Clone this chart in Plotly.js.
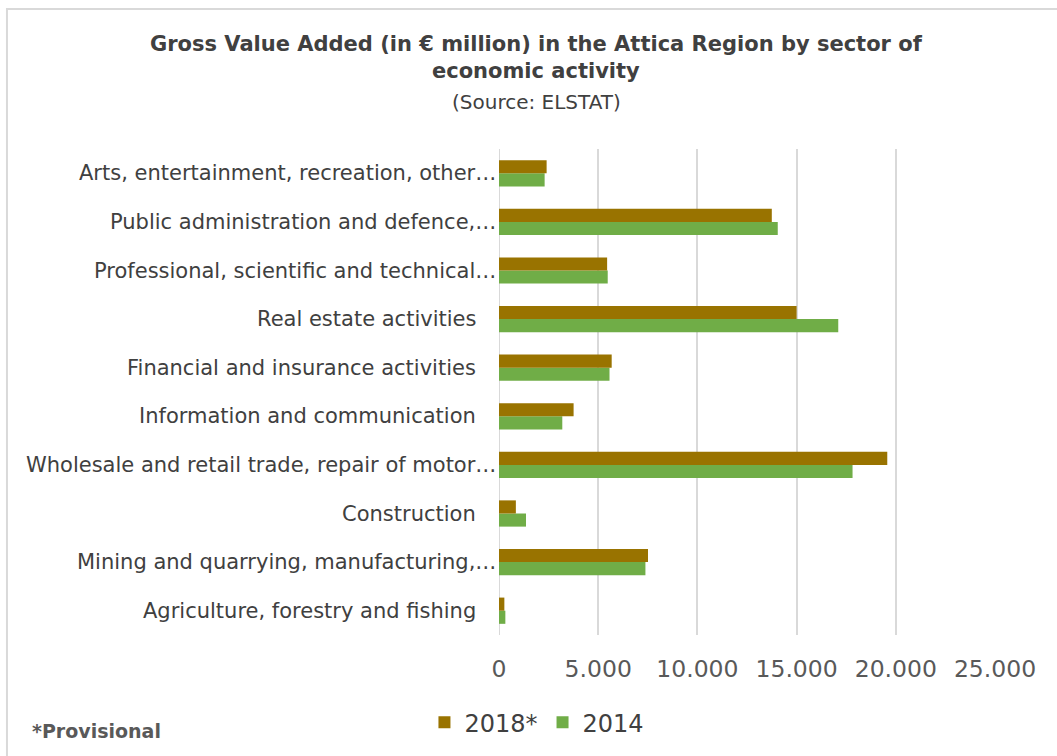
<!DOCTYPE html>
<html><head><meta charset="utf-8">
<script src="https://cdn.plot.ly/plotly-3.0.1.min.js"></script>
<style>html,body{margin:0;padding:0;background:#fff;}#chart{width:1057px;height:756px;}</style>
</head><body><div id="chart"></div>
<script>
const categories = [
  "Agriculture, forestry and fishing",
  "Mining and quarrying, manufacturing,…",
  "Construction",
  "Wholesale and retail trade, repair of motor…",
  "Information and communication",
  "Financial and insurance activities",
  "Real estate activities",
  "Professional, scientific and technical…",
  "Public administration and defence,…",
  "Arts, entertainment, recreation, other…"
];
const values2018 = [270, 7510, 850, 19570, 3760, 5680, 15000, 5450, 13750, 2400];
const values2014 = [320, 7380, 1360, 17820, 3190, 5570, 17100, 5480, 14050, 2300];
const seriesNames = ["2014", "2018*"];
const xTicks = [0, 5000, 10000, 15000, 20000, 25000];

const FONT = "DejaVu Sans, Verdana, sans-serif";
const traces = [
  {type:'bar', orientation:'h', name:seriesNames[0], y:categories, x:values2014,
   marker:{color:'#70ad47'}, hoverinfo:'x'},
  {type:'bar', orientation:'h', name:seriesNames[1], y:categories, x:values2018,
   marker:{color:'#997300'}, hoverinfo:'x'}
];
// category labels drawn as annotations so truncated labels can sit closer to the axis
const labelAnns = categories.map(c => ({
  text: c, xref:'paper', yref:'y', x:0, y:c, xanchor:'right', yanchor:'middle',
  xshift: c.endsWith('…') ? -1 : -21, showarrow:false,
  font:{family:FONT, size:21, color:'#404040'}
}));
const layout = {
  width:1057, height:756,
  separators:',.',
  paper_bgcolor:'#fff', plot_bgcolor:'#fff',
  margin:{l:499, r:62, t:149, b:121},
  font:{family:FONT, color:'#404040', size:20},
  barmode:'group', bargap:0.46, bargroupgap:0,
  title:{text:'<b>Gross Value Added (in € million) in the Attica Region by sector of<br>economic activity</b>',
    font:{family:FONT, size:21, color:'#404040'}, x:0.507, xref:'container', xanchor:'center',
    y:0.933, yref:'container', yanchor:'top'},
  xaxis:{range:[0,25000], tickvals:xTicks, tickformat:',d', showgrid:true, gridcolor:'#d9d9d9', gridwidth:2,
    zeroline:false, showline:false, ticks:'', ticklabelstandoff:17, tickfont:{size:23.5, color:'#595959'}, fixedrange:true},
  yaxis:{categoryorder:'array', categoryarray:categories, showgrid:false, zeroline:false, showline:false,
    ticks:'', showticklabels:false, fixedrange:true},
  legend:{orientation:'h', x:0.508, xref:'container', xanchor:'center', y:0.044, yref:'container', yanchor:'middle',
    traceorder:'reversed', font:{size:24, color:'#404040'}},
  annotations:[
    {text:'(Source: ELSTAT)', xref:'paper', yref:'paper', x:0.0746, y:1.0967, xanchor:'center', yanchor:'middle',
     showarrow:false, font:{size:20, color:'#404040', family:FONT}},
    {text:'<b>*Provisional</b>', xref:'paper', yref:'paper', x:-0.9456, y:-0.1975, xanchor:'left', yanchor:'middle',
     showarrow:false, font:{size:19, color:'#595959', family:FONT}}
  ].concat(labelAnns),
  shapes:[{type:'line', xref:'x', yref:'paper', x0:0, x1:0, y0:0, y1:1, line:{color:'#d9d9d9', width:2}, layer:'below'},
    {type:'rect', xref:'paper', yref:'paper', x0:-0.992, x1:1.3, y0:-0.6, y1:1.288, line:{color:'#d9d9d9', width:2}}]
};
Plotly.newPlot('chart', traces, layout, {displayModeBar:false, staticPlot:true});
</script></body></html>
